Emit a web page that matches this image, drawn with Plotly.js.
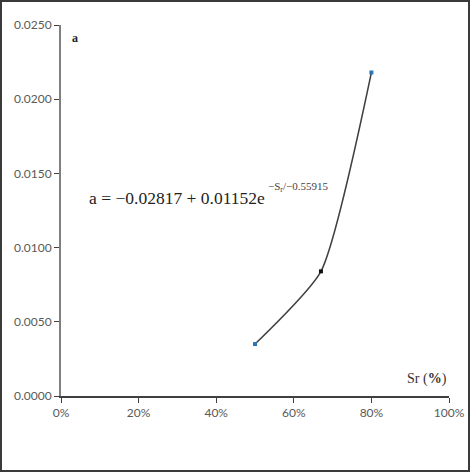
<!DOCTYPE html>
<html>
<head>
<meta charset="utf-8">
<script src="https://cdn.plot.ly/plotly-3.0.1.min.js"></script>
<style>
  body { margin: 0; background: #fff; }
  #chart { width: 466px; height: 468px; border: 2px solid #3a3a3a; }
</style>
</head>
<body>
<div id="chart"></div>
<script>
// Messpunkte (Sr als Anteil, a)
const srValues = [0.50, 0.67, 0.80];
const aValues = [0.0035, 0.0084, 0.0218];
const pointColors = ['#2e75b6', '#111111', '#2e75b6'];

const xTicks = [0, 0.2, 0.4, 0.6, 0.8, 1.0];
const yTicks = [0, 0.005, 0.010, 0.015, 0.020, 0.025];

const trace = {
    x: srValues,
    y: aValues,
    type: 'scatter',
    mode: 'lines+markers',
    line: { shape: 'spline', smoothing: 0.55, color: '#404040', width: 1.5 },
    marker: { symbol: 'square', size: 4, color: pointColors },
    hoverinfo: 'x+y'
};

const tickFont = { family: 'Lato, "Liberation Sans", sans-serif', size: 12, color: '#595959' };

const layout = {
    width: 466,
    height: 468,
    margin: { l: 59, r: 19, t: 23, b: 74 },
    paper_bgcolor: '#ffffff',
    plot_bgcolor: '#ffffff',
    showlegend: false,
    xaxis: {
        range: [0, 1],
        tickvals: xTicks,
        tickformat: '.0%',
        ticks: 'outside',
        ticklen: 5,
        tickcolor: '#404040',
        showgrid: false,
        zeroline: false,
        showline: true,
        linecolor: '#404040',
        linewidth: 2,
        tickfont: tickFont,
        fixedrange: true
    },
    yaxis: {
        range: [0, 0.025],
        tickvals: yTicks,
        tickformat: '.4f',
        ticks: 'outside',
        ticklen: 5,
        tickcolor: '#404040',
        showgrid: false,
        zeroline: false,
        showline: true,
        linecolor: '#808080',
        linewidth: 2,
        tickfont: tickFont,
        fixedrange: true
    },
    annotations: [
        {
            xref: 'paper', yref: 'paper', x: 0.022, y: 0.965,
            text: '<b>a</b>', showarrow: false,
            xanchor: 'left', yanchor: 'middle',
            font: { family: 'Liberation Serif, serif', size: 12, color: '#222' }
        },
        {
            xref: 'paper', yref: 'paper', x: 0.066, y: 0.535,
            text: 'a = −0.02817 + 0.01152e', showarrow: false,
            xanchor: 'left', yanchor: 'middle',
            font: { family: 'Liberation Serif, serif', size: 17.5, color: '#222' }
        },
        {
            xref: 'paper', yref: 'paper', x: 0.528, y: 0.562,
            text: '−S<sub>r</sub>/−0.55915', showarrow: false,
            xanchor: 'left', yanchor: 'middle',
            font: { family: 'Liberation Serif, serif', size: 11, color: '#444' }
        },
        {
            xref: 'paper', yref: 'paper', x: 1.0, y: 0.046,
            text: 'Sr (<b>%</b>)', showarrow: false,
            xanchor: 'right', yanchor: 'middle',
            font: { family: 'Liberation Serif, serif', size: 14, color: '#333' }
        }
    ]
};

Plotly.newPlot('chart', [trace], layout, { displayModeBar: false, staticPlot: true });
</script>
</body>
</html>
